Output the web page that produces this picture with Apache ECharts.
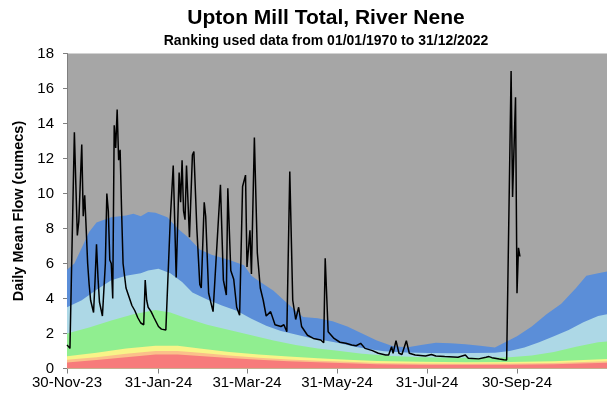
<!DOCTYPE html>
<html>
<head>
<meta charset="utf-8">
<script src="https://cdn.jsdelivr.net/npm/echarts@6/dist/echarts.min.js"></script>
<style>
  html, body { margin: 0; padding: 0; background: #fff; }
  #chart { width: 607px; height: 397px; }
</style>
</head>
<body>
<div id="chart"></div>
<script>
// Day 0 = 30-Nov-2023; the axis runs one year to 30-Nov-2024 (day 366).
const tickDays = [0, 62, 122, 183, 244, 305];
const tickLabels = ['30-Nov-23', '31-Jan-24', '31-Mar-24', '31-May-24', '31-Jul-24', '30-Sep-24'];
const yTicks = [0, 2, 4, 6, 8, 10, 12, 14, 16, 18];

// Daily mean flow (cumecs), [day, value]
const flow = [
  [0, 1.35], [1, 1.25], [2, 1.15], [3, 1.2], [5, 13.5], [6, 10.5], [7, 7.6], [8, 8.4],
  [10, 12.8], [11, 8.7], [12, 9.9], [13, 8.0], [14, 6.0], [15, 4.8], [16, 3.9], [18, 3.2],
  [19, 5.0], [20, 7.1], [21, 5.2], [22, 3.8], [24, 3.0], [25, 3.1], [26, 6.0], [27, 10.0],
  [28, 9.0], [29, 6.2], [30, 6.0], [31, 4.0], [32, 13.9], [33, 12.6], [34, 14.8], [35, 11.9],
  [36, 12.5], [37, 9.0], [38, 6.0], [40, 4.6], [42, 4.1], [44, 3.6], [46, 3.3], [48, 2.9],
  [50, 2.6], [52, 2.5], [53, 5.05], [54, 3.9], [55, 3.5], [56, 3.6], [57, 3.25], [59, 2.9],
  [62, 2.4], [64, 2.25], [67, 2.2], [68, 2.3], [70, 8.5], [72, 11.6], [74, 5.2], [76, 11.2],
  [77, 9.5], [78, 11.9], [79, 9.0], [80, 8.5], [81, 11.6], [83, 7.5], [85, 12.2], [86, 12.4],
  [88, 8.0], [90, 4.8], [91, 4.6], [93, 9.5], [94, 8.7], [96, 4.3], [99, 3.25], [100, 3.25],
  [104, 10.5], [106, 5.05], [108, 4.2], [109, 10.3], [111, 5.6], [112, 5.6], [113, 5.1],
  [115, 3.5], [117, 3.05], [119, 10.4], [121, 11.05], [122, 5.8], [124, 7.9], [125, 5.4],
  [127, 13.2], [129, 6.6], [131, 4.6], [133, 3.9], [135, 3.0], [138, 3.25], [141, 2.5],
  [145, 2.4], [147, 2.5], [149, 2.1], [151, 11.25], [153, 3.9], [155, 2.8], [157, 3.5],
  [159, 2.4], [163, 1.9], [167, 1.72], [172, 1.63], [174, 1.47], [175, 6.3], [177, 2.1],
  [181, 1.72], [185, 1.5], [189, 1.44], [193, 1.34], [194, 1.45], [196, 1.3], [199, 1.44],
  [202, 1.15], [207, 1.02], [211, 0.87], [216, 0.77], [218, 0.77], [220, 1.25], [221, 0.87],
  [223, 1.59], [225, 0.87], [227, 0.8], [230, 1.59], [232, 0.87], [236, 0.77], [243, 0.71],
  [247, 0.8], [250, 0.71], [256, 0.68], [265, 0.64], [270, 0.77], [272, 0.58], [279, 0.55],
  [284, 0.64], [286, 0.68], [288, 0.62], [293, 0.54], [296, 0.5], [298, 0.49],
  [301, 17.0], [302, 9.8], [303, 9.9], [304, 15.5], [305, 4.3], [306, 6.9], [307, 6.4]
];

// Historical ranking bands: upper edge of each band, [day, value]
const bandBlue = [
  [0, 5.65], [5, 6.0], [10, 6.9], [15, 7.8], [20, 8.35], [30, 8.65], [40, 8.75], [45, 8.85],
  [50, 8.7], [55, 8.95], [60, 8.9], [68, 8.65], [75, 8.0], [82, 7.5], [90, 6.8], [98, 6.5],
  [110, 6.2], [120, 5.9], [125, 5.3], [130, 5.0], [140, 4.45], [147, 3.9], [155, 3.3],
  [160, 2.95], [170, 2.87], [180, 2.7], [190, 2.4], [200, 2.0], [210, 1.6], [220, 1.3],
  [230, 1.2], [240, 1.35], [250, 1.47], [260, 1.45], [270, 1.38], [280, 1.3], [290, 1.2],
  [297, 1.5], [305, 1.85], [315, 2.4], [325, 3.1], [335, 3.7], [345, 4.6], [352, 5.3],
  [360, 5.45], [366, 5.55]
];
const bandLightBlue = [
  [0, 3.5], [10, 3.9], [20, 4.5], [30, 5.05], [40, 5.3], [50, 5.45], [55, 5.6], [62, 5.7],
  [70, 5.45], [78, 4.95], [85, 4.35], [95, 3.95], [105, 3.6], [115, 3.3], [125, 2.85],
  [135, 2.45], [145, 2.15], [155, 1.95], [165, 1.75], [175, 1.6], [185, 1.45], [195, 1.25],
  [205, 1.1], [215, 0.98], [230, 0.92], [245, 0.88], [260, 0.87], [275, 0.88], [290, 0.9],
  [300, 1.0], [310, 1.2], [320, 1.5], [330, 1.85], [340, 2.2], [350, 2.65], [360, 3.0],
  [366, 3.1]
];
const bandGreen = [
  [0, 2.0], [15, 2.35], [30, 2.75], [45, 3.1], [60, 3.35], [70, 3.2], [80, 2.9], [95, 2.5],
  [110, 2.2], [125, 1.9], [140, 1.6], [155, 1.35], [170, 1.15], [185, 1.0], [200, 0.85],
  [220, 0.72], [240, 0.65], [260, 0.62], [280, 0.62], [300, 0.65], [315, 0.75], [330, 0.95],
  [345, 1.25], [360, 1.5], [366, 1.55]
];
const bandYellow = [
  [0, 0.7], [20, 0.9], [40, 1.15], [60, 1.3], [75, 1.3], [90, 1.15], [110, 0.95], [130, 0.8],
  [150, 0.68], [170, 0.58], [190, 0.5], [210, 0.43], [240, 0.38], [270, 0.36], [300, 0.37],
  [330, 0.42], [366, 0.55]
];
const bandOrange = [
  [0, 0.5], [20, 0.65], [40, 0.85], [60, 1.0], [75, 1.0], [90, 0.9], [110, 0.75], [130, 0.62],
  [150, 0.52], [170, 0.45], [190, 0.38], [210, 0.32], [240, 0.28], [270, 0.27], [300, 0.28],
  [330, 0.32], [366, 0.42]
];
const bandRed = [
  [0, 0.35], [20, 0.48], [40, 0.65], [60, 0.8], [75, 0.8], [90, 0.72], [110, 0.6], [130, 0.5],
  [150, 0.42], [170, 0.36], [190, 0.3], [210, 0.25], [240, 0.22], [270, 0.21], [300, 0.22],
  [330, 0.25], [366, 0.33]
];

const FONT = '"Liberation Sans", Arial, sans-serif';

function band(data, color) {
  return {
    type: 'line', data: data, symbol: 'none', silent: true,
    lineStyle: { width: 0 }, itemStyle: { color: color },
    areaStyle: { color: color, opacity: 1, origin: 'start' }
  };
}

const chart = echarts.init(document.getElementById('chart'), null, { renderer: 'canvas' });
chart.setOption({
  animation: false,
  backgroundColor: '#ffffff',
  title: [
    { text: 'Upton Mill Total, River Nene', left: 321, top: 3, textAlign: 'center',
      textStyle: { fontFamily: FONT, fontSize: 21, fontWeight: 'bold', color: '#000' } },
    { text: 'Ranking used data from 01/01/1970 to 31/12/2022', left: 321, top: 29, textAlign: 'center',
      textStyle: { fontFamily: FONT, fontSize: 14, fontWeight: 'bold', color: '#000' } }
  ],
  grid: { left: 67, right: 0, top: 53.5, bottom: 28.5, show: true,
          backgroundColor: '#a6a6a6', borderWidth: 0 },
  xAxis: {
    type: 'value', min: 0, max: 366,
    axisLine: { show: true, onZero: false, lineStyle: { color: '#7f7f7f', width: 1 } },
    axisTick: { show: true, customValues: tickDays, length: 5, lineStyle: { color: '#7f7f7f' } },
    axisLabel: { customValues: tickDays, margin: 7, color: '#000', fontFamily: FONT, fontSize: 15,
      formatter: v => tickLabels[tickDays.indexOf(v)] },
    splitLine: { show: false }
  },
  yAxis: {
    type: 'value', min: 0, max: 18, interval: 2,
    name: 'Daily Mean Flow (cumecs)', nameLocation: 'middle', nameGap: 35, nameRotate: 90,
    nameTextStyle: { fontFamily: FONT, fontSize: 14.5, fontWeight: 'bold', color: '#000' },
    axisLine: { show: true, lineStyle: { color: '#7f7f7f', width: 1 } },
    axisTick: { show: true, length: 4, lineStyle: { color: '#7f7f7f' } },
    axisLabel: { margin: 13, color: '#000', fontFamily: FONT, fontSize: 15,
      formatter: v => yTicks.indexOf(v) >= 0 ? String(v) : '' },
    splitLine: { show: false }
  },
  series: [
    band(bandBlue, '#5b8ed8'),
    band(bandLightBlue, '#add8e6'),
    band(bandGreen, '#90ee90'),
    band(bandYellow, '#f8f488'),
    band(bandOrange, '#fbc08a'),
    band(bandRed, '#f77b7b'),
    { type: 'line', data: flow, symbol: 'none', silent: true, z: 5,
      lineStyle: { color: '#000', width: 1.5 } }
  ]
});
</script>
</body>
</html>
